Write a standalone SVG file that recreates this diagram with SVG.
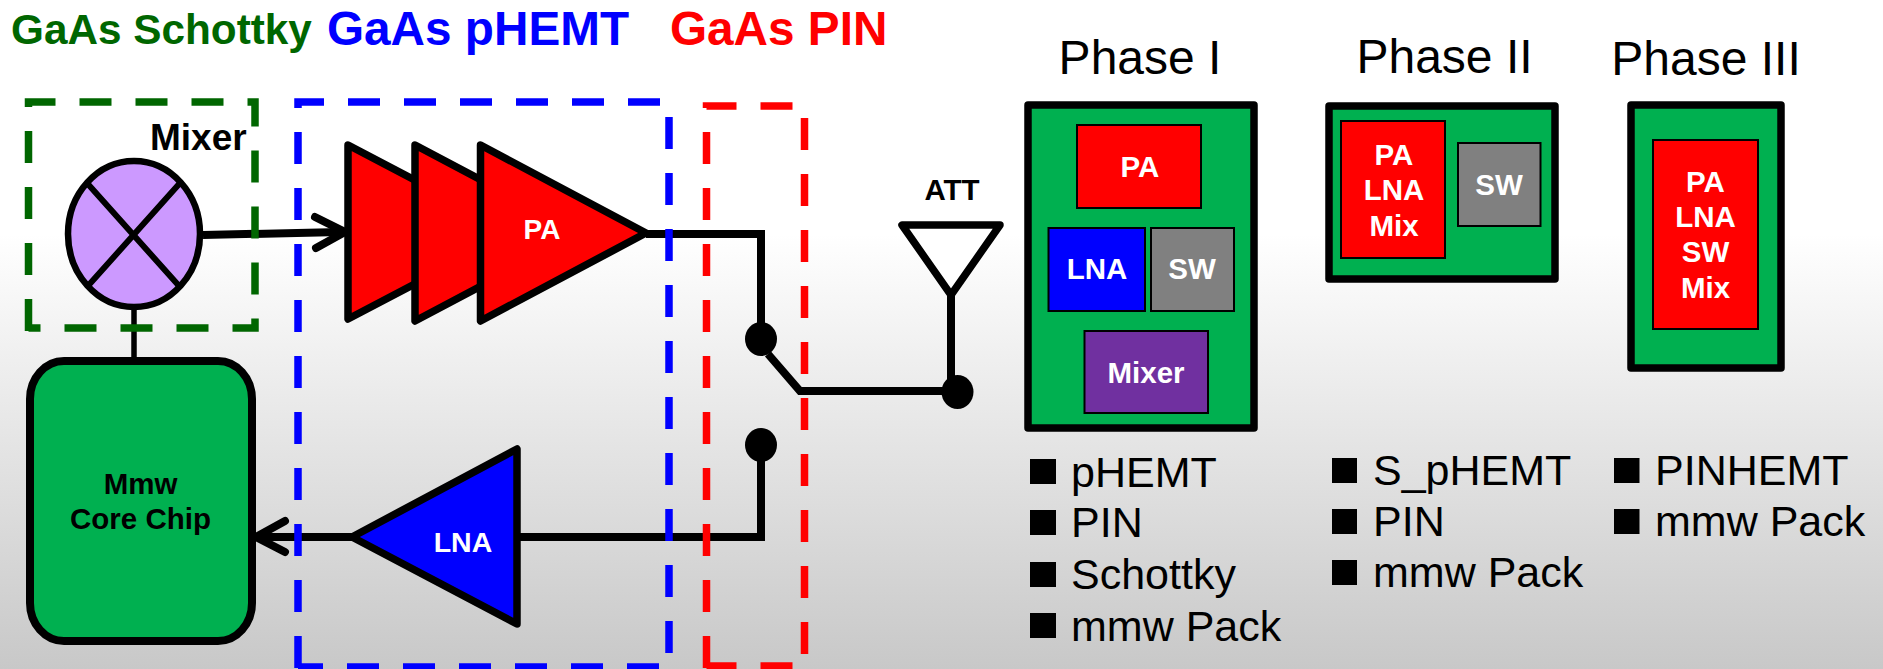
<svg xmlns="http://www.w3.org/2000/svg" width="1883" height="669" viewBox="0 0 1883 669">
<defs>
<linearGradient id="bg" x1="0" y1="0" x2="0" y2="1"><stop offset="0" stop-color="#fff"/><stop offset="0.35" stop-color="#fff"/><stop offset="1" stop-color="#c8c8c8"/></linearGradient>
<style>
text{font-family:"Liberation Sans",Arial,sans-serif}
.b{font-weight:700}
.w{fill:#fff;font-weight:700;font-size:29.500px;text-anchor:middle}
.k{fill:#000;font-weight:700;font-size:29.500px;text-anchor:middle}
.h{font-weight:700;font-size:47.700px}
.ph{font-size:48px;text-anchor:middle}
.li{font-size:43px}
.dash{fill:none;stroke-width:7.500;stroke-dasharray:32 24}
.wire{fill:none;stroke:#000;stroke-width:8;stroke-linejoin:miter}
.arrow{fill:none;stroke:#000;stroke-width:8;stroke-linecap:round;stroke-linejoin:miter}
.tri{stroke:#000;stroke-width:7.500;stroke-linejoin:round}
.pkg{fill:#00b050;stroke:#000;stroke-width:7.500;stroke-linejoin:round}
.in{stroke:#000;stroke-width:2}
</style>
</defs>
<rect width="1883" height="669" fill="url(#bg)"/>

<g id="headers">
<text class="b" x="11" y="44" font-size="42.300" fill="#006600">GaAs Schottky</text>
<text class="h" x="327" y="45" fill="#0000ff">GaAs pHEMT</text>
<text class="h" x="670" y="45" fill="#ff0000">GaAs PIN</text>
</g>

<g id="connectors">
<path d="M134 305V360" fill="none" stroke="#000" stroke-width="5.500"/>
<path class="wire" d="M203 235L340 232"/>
<path class="arrow" d="M315 217L345 232L316 248"/>
<path class="wire" d="M646 234H761V325"/>
<path class="wire" d="M768 354L800 391H945"/>
<path class="wire" d="M951 290V385"/>
<path class="wire" d="M761 455V537H519"/>
<path class="wire" d="M353 537H262"/>
<path class="arrow" d="M285 521L256 537L285 552"/>
</g>

<g id="mixer">
<ellipse cx="134" cy="234" rx="66" ry="73" fill="#cc99ff" stroke="#000" stroke-width="6.500"/>
<path d="M87 183L180 287M180 183L87 287" stroke="#000" stroke-width="6" fill="none"/>
<text class="b" x="150" y="150" font-size="37" fill="#000">Mixer</text>
</g>

<g id="chip">
<rect x="30" y="361" width="222" height="280" rx="34" ry="38" fill="#00b050" stroke="#000" stroke-width="8"/>
<text class="k" x="140.500" y="494">Mmw</text>
<text class="k" x="140.500" y="529">Core Chip</text>
</g>

<g id="pa">
<path class="tri" fill="#ff0000" d="M348 145L514 232L348 319Z"/>
<path class="tri" fill="#ff0000" d="M415 145L581 233L415 321Z"/>
<path class="tri" fill="#ff0000" d="M480.500 145L646 233L480.500 321Z"/>
<text class="w" x="542" y="239" style="font-size:28px">PA</text>
</g>

<g id="lna">
<path class="tri" fill="#0000ff" d="M352 537L517 449V624Z"/>
<text class="w" x="463" y="552" style="font-size:28.500px">LNA</text>
</g>

<g id="switch">
<ellipse cx="761" cy="339" rx="16" ry="17" fill="#000"/>
<ellipse cx="761" cy="445" rx="16" ry="17" fill="#000"/>
<ellipse cx="957.500" cy="392" rx="16" ry="17" fill="#000"/>
</g>

<g id="antenna">
<path d="M902 225H1000L951 295Z" fill="#fff" stroke="#000" stroke-width="7.500" stroke-linejoin="round"/>
<text class="k" x="952" y="200">ATT</text>
</g>

<g id="dashed-boxes">
<path class="dash" stroke="#006600" d="M28.500 331V102H255V328H28.500"/>
<path class="dash" stroke="#0000ff" d="M298 668V102H669V667H298"/>
<path class="dash" stroke="#ff0000" d="M706.500 668V106H804.500V666H706.500"/>
</g>

<g id="phase1">
<text class="ph" x="1140" y="74">Phase I</text>
<rect class="pkg" x="1028" y="105" width="226" height="323"/>
<rect class="in" x="1077" y="125" width="124" height="83" fill="#ff0000"/>
<rect class="in" x="1048.500" y="228" width="96.500" height="83" fill="#0000ff"/>
<rect class="in" x="1151" y="228" width="83" height="83" fill="#808080"/>
<rect class="in" x="1084.500" y="331" width="123.500" height="82" fill="#7030a0"/>
<text class="w" x="1140" y="177">PA</text>
<text class="w" x="1097" y="279">LNA</text>
<text class="w" x="1192" y="279">SW</text>
<text class="w" x="1146" y="383">Mixer</text>
<rect x="1030" y="459" width="26" height="25"/><text class="li" x="1071" y="487">pHEMT</text>
<rect x="1030" y="510" width="26" height="25"/><text class="li" x="1071" y="537">PIN</text>
<rect x="1030" y="562" width="26" height="25"/><text class="li" x="1071" y="589">Schottky</text>
<rect x="1030" y="613" width="26" height="25"/><text class="li" x="1071" y="641">mmw Pack</text>
</g>

<g id="phase2">
<text class="ph" x="1444.500" y="73">Phase II</text>
<rect class="pkg" x="1329" y="106" width="226" height="173"/>
<rect class="in" x="1341" y="121" width="104" height="137" fill="#ff0000"/>
<rect class="in" x="1458" y="143" width="82.500" height="83" fill="#808080"/>
<text class="w" x="1394" y="165">PA</text>
<text class="w" x="1394" y="200">LNA</text>
<text class="w" x="1394" y="236">Mix</text>
<text class="w" x="1499" y="195">SW</text>
<rect x="1332" y="458" width="25" height="25"/><text class="li" x="1373" y="485">S_pHEMT</text>
<rect x="1332" y="509" width="25" height="25"/><text class="li" x="1373" y="536">PIN</text>
<rect x="1332" y="560" width="25" height="25"/><text class="li" x="1373" y="587">mmw Pack</text>
</g>

<g id="phase3">
<text class="ph" x="1706" y="75">Phase III</text>
<rect class="pkg" x="1631" y="105" width="150" height="263"/>
<rect class="in" x="1653" y="140" width="105" height="189" fill="#ff0000"/>
<text class="w" x="1705.500" y="192">PA</text>
<text class="w" x="1705.500" y="227">LNA</text>
<text class="w" x="1705.500" y="262">SW</text>
<text class="w" x="1705.500" y="298">Mix</text>
<rect x="1614" y="458" width="25.500" height="25"/><text class="li" x="1655" y="485">PINHEMT</text>
<rect x="1614" y="509" width="25.500" height="25"/><text class="li" x="1655" y="536">mmw Pack</text>
</g>
</svg>
